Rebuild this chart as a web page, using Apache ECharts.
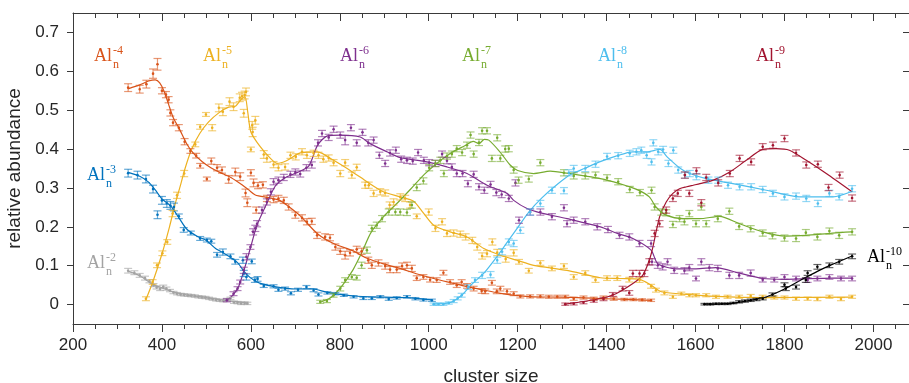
<!DOCTYPE html>
<html><head><meta charset="utf-8">
<script src="https://cdn.jsdelivr.net/npm/echarts@6/dist/echarts.min.js"></script>
<style>html,body{margin:0;padding:0;background:#fff}#c{width:909px;height:383px}</style>
</head><body><div id="c"></div>
<script>
// ---- tick labels ----
const xTicks = [200,400,600,800,1000,1200,1400,1600,1800,2000];
const xMinorTicks = [250,300,350,450,500,550,650,700,750,850,900,950,1050,1100,1150,1250,1300,1350,1450,1500,1550,1650,1700,1750,1850,1900,1950,2050];
const yTicks = [0,0.1,0.2,0.3,0.4,0.5,0.6,0.7];

// ---- data: [cluster size, abundance, error] ----
const al2 = [[324,0.087,.006],[338,0.082,.005],[350,0.075,.005],[362,0.068,.005],[372,0.060,.004],[381,0.050,.004],[388,0.044,.004],[396,0.040,.004],[403,0.046,.004],[410,0.041,.004],[418,0.036,.003],[426,0.031,.003],[434,0.028,.003],[442,0.026,.003],[450,0.025,.003],[458,0.024,.003],[466,0.023,.003],[474,0.022,.003],[482,0.020,.003],[490,0.019,.003],[498,0.018,.003],[506,0.016,.003],[514,0.014,.003],[522,0.012,.003],[530,0.011,.003],[538,0.010,.003],[546,0.013,.003],[554,0.016,.003],[562,0.006,.003],[570,0.005,.003],[578,0.003,.003],[586,0.004,.003],[592,0.003,.003]];
const al2Fit = [[324,.086],[350,.074],[380,.052],[400,.043],[430,.031],[460,.024],[500,.018],[540,.011],[570,.007],[592,.004]];

const al3 = [[324,.338,.01],[345,.333,.01],[364,.323,.01],[380,.297,.01],[390,.231,.01],[400,.268,.01],[411,.260,.01],[419,.255,.01],[427,.251,.01],[438,.227,.006],[449,.192,.006],[465,.184,.005],[486,.170,.005],[501,.166,.005],[511,.163,.005],[524,.128,.006],[537,.135,.008],[554,.124,.006],[565,.110,.006],[582,.114,.008],[584,.080,.008],[590,.071,.008],[602,.111,.006],[609,.063,.006],[615,.066,.006],[629,.048,.004],[651,.047,.004],[662,.038,.004],[677,.041,.004],[690,.029,.004],[706,.038,.004],[725,.045,.004],[741,.037,.004],[752,.026,.004],[772,.030,.003],[790,.028,.003],[809,.024,.003],[831,.020,.003],[853,.016,.003],[872,.016,.003],[891,.020,.003],[910,.014,.003],[928,.017,.003],[951,.020,.003],[970,.015,.003],[988,.012,.003],[1007,.011,.003]];
const al3Fit = [[324,.340],[350,.330],[370,.315],[385,.295],[400,.272],[420,.253],[440,.220],[455,.195],[480,.175],[500,.165],[520,.145],[545,.128],[570,.108],[585,.085],[600,.068],[620,.055],[650,.047],[700,.040],[740,.040],[770,.032],[830,.022],[900,.019],[950,.018],[1007,.012]];

const al4 = [[324,.558,.01],[350,.554,.01],[365,.567,.01],[380,.594,.012],[390,.618,.015],[400,.550,.008],[409,.540,.008],[415,.527,.008],[419,.493,.008],[425,.468,.008],[438,.455,.008],[451,.419,.008],[464,.395,.006],[477,.383,.006],[486,.357,.006],[501,.323,.005],[511,.369,.008],[524,.352,.008],[535,.346,.008],[550,.322,.01],[565,.341,.01],[576,.329,.01],[588,.287,.01],[592,.262,.01],[600,.339,.008],[606,.313,.01],[612,.243,.008],[616,.306,.008],[627,.308,.008],[636,.273,.008],[651,.270,.008],[662,.273,.008],[674,.268,.008],[685,.251,.008],[700,.230,.008],[715,.223,.008],[726,.213,.008],[737,.214,.008],[749,.178,.008],[767,.174,.008],[778,.172,.008],[790,.148,.008],[801,.137,.008],[812,.127,.01],[823,.133,.008],[838,.142,.008],[849,.137,.008],[864,.114,.008],[872,.101,.008],[887,.107,.008],[902,.099,.008],[913,.090,.008],[928,.090,.008],[940,.099,.008],[951,.101,.008],[962,.093,.008],[973,.068,.006],[988,.071,.006],[1003,.064,.006],[1018,.063,.006],[1033,.082,.006],[1048,.058,.006],[1063,.050,.006],[1074,.058,.006],[1086,.048,.006],[1101,.041,.006],[1119,.035,.006],[1127,.034,.006],[1142,.056,.006],[1153,.034,.006],[1161,.041,.006],[1176,.034,.006],[1191,.028,.005],[1206,.021,.004],[1228,.021,.004],[1251,.021,.004],[1270,.020,.004],[1289,.020,.004],[1307,.020,.004],[1326,.015,.004],[1348,.018,.004],[1371,.015,.004],[1393,.018,.004],[1416,.015,.004],[1440,.013,.003],[1460,.013,.003],[1480,.012,.003],[1500,.011,.003]];
const al4Fit = [[324,.555],[350,.565],[370,.575],[385,.578],[395,.570],[405,.548],[415,.515],[425,.482],[440,.450],[455,.415],[470,.390],[490,.368],[510,.352],[530,.340],[550,.330],[575,.312],[595,.295],[610,.282],[640,.275],[665,.268],[685,.252],[711,.228],[749,.183],[786,.157],[830,.138],[861,.119],[900,.104],[936,.093],[970,.080],[1011,.067],[1050,.056],[1086,.046],[1120,.038],[1161,.029],[1200,.023],[1236,.020],[1300,.019],[1400,.015],[1500,.011]];

const al5 = [[364,.015,.005],[379,.058,.006],[389,.101,.006],[401,.132,.006],[412,.161,.006],[424,.234,.008],[434,.281,.008],[450,.337,.008],[475,.412,.006],[486,.457,.006],[499,.489,.005],[513,.455,.008],[528,.506,.01],[537,.496,.01],[552,.522,.01],[561,.509,.01],[575,.532,.01],[580,.536,.01],[584,.492,.01],[586,.539,.01],[589,.547,.01],[600,.399,.006],[603,.461,.01],[604,.444,.012],[610,.474,.01],[629,.386,.01],[636,.376,.01],[651,.360,.008],[662,.352,.008],[677,.354,.008],[689,.384,.008],[701,.380,.008],[715,.393,.008],[726,.384,.008],[741,.389,.008],[752,.384,.008],[763,.374,.008],[775,.377,.008],[786,.365,.008],[801,.337,.008],[812,.365,.008],[827,.333,.008],[838,.353,.008],[857,.307,.008],[865,.307,.008],[876,.286,.008],[891,.290,.008],[902,.287,.008],[912,.256,.008],[921,.264,.008],[936,.277,.008],[947,.273,.008],[958,.256,.008],[973,.227,.006],[1000,.238,.008],[1015,.196,.008],[1030,.213,.008],[1041,.183,.008],[1056,.184,.008],[1071,.181,.008],[1083,.174,.008],[1098,.165,.008],[1109,.148,.008],[1120,.125,.008],[1131,.131,.008],[1143,.161,.008],[1154,.134,.008],[1173,.117,.008],[1191,.133,.008],[1203,.110,.006],[1225,.087,.006],[1251,.107,.006],[1277,.093,.006],[1304,.099,.006],[1326,.071,.006],[1352,.081,.006],[1375,.063,.006],[1401,.068,.006],[1424,.068,.006],[1451,.064,.006],[1474,.063,.006],[1500,.047,.005],[1511,.037,.005],[1530,.030,.005],[1549,.020,.004],[1568,.028,.004],[1586,.024,.004],[1601,.024,.004],[1624,.024,.004],[1646,.020,.004],[1672,.020,.004],[1698,.020,.004],[1724,.022,.004],[1751,.020,.004],[1777,.018,.004],[1800,.018,.004],[1826,.015,.004],[1852,.015,.004],[1874,.014,.004],[1901,.020,.004],[1927,.014,.004],[1952,.020,.004]];
const al5Fit = [[364,.013],[380,.060],[400,.130],[417,.200],[430,.260],[440,.300],[452,.350],[467,.400],[485,.440],[505,.470],[530,.495],[550,.508],[565,.510],[580,.530],[587,.534],[593,.495],[600,.444],[621,.406],[644,.376],[659,.363],[680,.370],[711,.390],[750,.393],[786,.371],[830,.340],[861,.316],[898,.290],[936,.277],[966,.266],[985,.240],[1011,.204],[1048,.187],[1086,.174],[1124,.144],[1161,.127],[1198,.114],[1236,.101],[1311,.088],[1386,.069],[1431,.067],[1474,.065],[1500,.050],[1523,.033],[1572,.027],[1646,.021],[1759,.018],[1952,.019]];

const al6 = [[546,.011,.004],[561,.028,.005],[570,.041,.005],[576,.058,.005],[584,.088,.008],[590,.123,.008],[599,.148,.006],[605,.187,.008],[610,.196,.008],[614,.208,.008],[625,.243,.008],[636,.264,.008],[645,.290,.008],[651,.316,.008],[662,.320,.008],[674,.327,.008],[689,.335,.008],[700,.341,.008],[711,.336,.008],[725,.352,.008],[737,.359,.008],[751,.416,.008],[760,.440,.008],[775,.430,.008],[786,.451,.008],[801,.436,.008],[812,.423,.012],[825,.455,.008],[838,.416,.008],[851,.443,.008],[864,.416,.008],[876,.423,.008],[889,.384,.008],[902,.363,.008],[913,.390,.008],[926,.397,.008],[938,.374,.008],[951,.371,.008],[964,.369,.008],[976,.391,.008],[989,.371,.008],[1001,.365,.008],[1015,.363,.008],[1030,.387,.008],[1041,.370,.008],[1052,.354,.008],[1063,.337,.008],[1076,.337,.008],[1088,.311,.008],[1101,.335,.008],[1113,.303,.008],[1125,.294,.008],[1139,.309,.008],[1152,.288,.008],[1164,.283,.008],[1180,.273,.008],[1195,.313,.008],[1203,.217,.008],[1228,.238,.008],[1251,.238,.008],[1277,.226,.008],[1304,.249,.008],[1311,.208,.008],[1326,.217,.008],[1352,.213,.008],[1379,.200,.008],[1403,.193,.008],[1429,.178,.008],[1451,.174,.008],[1474,.157,.008],[1500,.157,.008],[1502,.110,.008],[1515,.101,.008],[1526,.097,.008],[1537,.110,.008],[1552,.088,.008],[1575,.087,.008],[1586,.095,.008],[1601,.067,.006],[1613,.110,.008],[1631,.095,.008],[1650,.093,.008],[1676,.075,.008],[1698,.075,.008],[1724,.081,.008],[1751,.064,.006],[1777,.064,.006],[1800,.071,.006],[1826,.067,.006],[1852,.063,.006],[1874,.067,.006],[1901,.071,.006],[1927,.067,.006],[1952,.067,.006]];
const al6Fit = [[546,.010],[560,.025],[572,.045],[585,.090],[600,.150],[614,.205],[635,.258],[655,.305],[680,.328],[705,.340],[730,.356],[750,.410],[772,.434],[801,.436],[846,.431],[868,.414],[906,.393],[936,.378],[996,.367],[1041,.354],[1086,.337],[1131,.307],[1176,.286],[1191,.268],[1221,.247],[1251,.236],[1311,.221],[1386,.200],[1424,.183],[1459,.170],[1500,.140],[1515,.105],[1557,.092],[1601,.092],[1646,.095],[1698,.081],[1751,.067],[1803,.065],[1908,.068],[1952,.068]];

const al7 = [[756,.007,.004],[771,.009,.004],[786,.024,.005],[801,.041,.006],[812,.063,.006],[827,.071,.006],[838,.069,.006],[849,.101,.008],[861,.140,.008],[872,.196,.008],[883,.204,.008],[895,.221,.008],[910,.238,.008],[925,.238,.008],[936,.238,.008],[951,.237,.008],[962,.256,.008],[973,.301,.008],[988,.318,.008],[1001,.352,.008],[1015,.363,.008],[1026,.371,.008],[1034,.337,.008],[1041,.382,.008],[1052,.387,.008],[1063,.401,.008],[1075,.391,.008],[1086,.410,.008],[1094,.436,.008],[1101,.387,.008],[1113,.417,.008],[1120,.447,.008],[1131,.447,.008],[1142,.376,.008],[1154,.429,.008],[1161,.376,.008],[1172,.400,.008],[1180,.401,.008],[1191,.346,.008],[1202,.320,.008],[1225,.323,.008],[1251,.365,.008],[1304,.339,.008],[1326,.331,.008],[1352,.331,.008],[1375,.333,.008],[1401,.326,.008],[1426,.316,.008],[1452,.296,.008],[1475,.288,.008],[1501,.294,.008],[1508,.251,.008],[1523,.238,.008],[1534,.236,.008],[1549,.206,.008],[1564,.221,.008],[1575,.213,.008],[1586,.234,.008],[1601,.208,.008],[1613,.251,.008],[1624,.208,.008],[1650,.221,.008],[1676,.240,.008],[1698,.201,.008],[1724,.195,.008],[1751,.184,.008],[1773,.177,.008],[1800,.171,.008],[1826,.170,.008],[1848,.185,.008],[1874,.174,.008],[1901,.189,.008],[1923,.178,.008],[1952,.187,.008]];
const al7Fit = [[756,.006],[780,.018],[805,.048],[830,.090],[850,.135],[870,.185],[900,.228],[930,.262],[960,.298],[990,.335],[1020,.365],[1050,.390],[1080,.408],[1100,.420],[1113,.414],[1125,.425],[1135,.423],[1160,.393],[1183,.359],[1200,.345],[1236,.337],[1273,.343],[1310,.338],[1386,.324],[1429,.311],[1470,.295],[1496,.277],[1511,.251],[1534,.230],[1572,.221],[1609,.221],[1654,.227],[1699,.208],[1751,.187],[1803,.176],[1848,.178],[1908,.184],[1952,.187]];

const al8 = [[1011,.001,.003],[1022,.001,.003],[1033,.001,.003],[1045,.004,.003],[1056,.009,.004],[1065,.016,.004],[1074,.024,.005],[1089,.045,.006],[1104,.063,.006],[1120,.075,.008],[1139,.077,.008],[1154,.114,.008],[1165,.136,.008],[1180,.161,.008],[1191,.157,.008],[1206,.191,.008],[1228,.238,.008],[1251,.260,.008],[1277,.294,.008],[1304,.293,.008],[1315,.339,.008],[1326,.350,.008],[1352,.350,.008],[1375,.361,.008],[1401,.381,.008],[1426,.383,.008],[1452,.389,.008],[1467,.393,.008],[1478,.397,.008],[1490,.384,.008],[1501,.367,.008],[1505,.416,.008],[1516,.393,.008],[1527,.399,.008],[1539,.363,.008],[1550,.397,.008],[1561,.346,.008],[1576,.333,.008],[1587,.337,.008],[1602,.329,.008],[1629,.320,.008],[1651,.320,.008],[1673,.307,.008],[1699,.303,.008],[1725,.303,.008],[1751,.296,.008],[1774,.286,.008],[1800,.277,.008],[1826,.279,.008],[1849,.273,.008],[1875,.260,.008],[1901,.286,.008],[1923,.277,.008],[1952,.298,.008]];
const al8Fit = [[1011,.001],[1050,.006],[1075,.025],[1095,.050],[1125,.082],[1150,.118],[1175,.158],[1200,.198],[1225,.238],[1255,.275],[1290,.310],[1320,.335],[1350,.350],[1384,.367],[1421,.382],[1459,.393],[1490,.393],[1520,.399],[1536,.380],[1566,.350],[1587,.337],[1624,.324],[1684,.311],[1759,.294],[1834,.277],[1909,.277],[1954,.292]];

const al9 = [[1307,.001,.003],[1326,.002,.003],[1348,.005,.003],[1371,.009,.003],[1393,.014,.004],[1414,.026,.005],[1436,.041,.006],[1451,.030,.006],[1459,.080,.008],[1474,.080,.008],[1485,.080,.008],[1496,.110,.008],[1508,.183,.008],[1519,.208,.008],[1534,.243,.008],[1549,.273,.008],[1560,.286,.008],[1576,.333,.008],[1586,.286,.008],[1602,.344,.008],[1613,.262,.008],[1624,.327,.008],[1651,.313,.008],[1677,.337,.008],[1699,.376,.008],[1725,.367,.008],[1751,.406,.008],[1774,.410,.008],[1800,.427,.008],[1826,.390,.008],[1849,.359,.008],[1875,.361,.008],[1899,.301,.008],[1924,.333,.008],[1952,.274,.008]];
const al9Fit = [[1307,.001],[1384,.015],[1421,.028],[1459,.054],[1481,.075],[1496,.114],[1504,.148],[1519,.225],[1534,.264],[1549,.286],[1564,.298],[1580,.303],[1595,.307],[1610,.311],[1640,.320],[1677,.341],[1714,.371],[1751,.399],[1781,.401],[1811,.397],[1849,.371],[1894,.337],[1952,.290]];

const al10 = [[1620,.001,.002],[1633,.001,.002],[1646,.002,.002],[1659,.002,.002],[1672,.002,.002],[1685,.004,.002],[1698,.007,.003],[1711,.009,.003],[1724,.011,.003],[1737,.013,.003],[1751,.015,.003],[1773,.026,.004],[1800,.051,.005],[1803,.041,.005],[1826,.045,.005],[1848,.063,.006],[1852,.081,.006],[1874,.097,.006],[1901,.101,.006],[1923,.110,.006],[1952,.124,.006]];
const al10Fit = [[1620,.001],[1680,.003],[1720,.010],[1760,.020],[1800,.040],[1840,.065],[1875,.086],[1905,.102],[1952,.125]];

const groups = [
  {pts: al2,  fit: al2Fit,  color: '#a3a3a3', sup: '-2',  lx: 87,  ly: 263},
  {pts: al3,  fit: al3Fit,  color: '#0072BD', sup: '-3',  lx: 87,  ly: 175},
  {pts: al4,  fit: al4Fit,  color: '#D95319', sup: '-4',  lx: 94,  ly: 56},
  {pts: al5,  fit: al5Fit,  color: '#EDB120', sup: '-5',  lx: 203, ly: 56},
  {pts: al6,  fit: al6Fit,  color: '#7E2F8E', sup: '-6',  lx: 340, ly: 56},
  {pts: al7,  fit: al7Fit,  color: '#77AC30', sup: '-7',  lx: 462, ly: 56},
  {pts: al8,  fit: al8Fit,  color: '#4DBEEE', sup: '-8',  lx: 598, ly: 56},
  {pts: al9,  fit: al9Fit,  color: '#A2142F', sup: '-9',  lx: 756, ly: 56},
  {pts: al10, fit: al10Fit, color: '#000000', sup: '-10', lx: 867, ly: 257}
];

const axisColor = '#3a3a3a';
const textColor = '#262626';
const sansFont = '"Liberation Sans", Arial, sans-serif';
const serifFont = '"Liberation Serif", "Times New Roman", serif';

function errRender(color) {
  return function (params, api) {
    const x = api.value(0), y = api.value(1), e = api.value(2);
    const p = api.coord([x, y]);
    const t = api.coord([x, y + e]);
    const b = api.coord([x, y - e]);
    const w = 4;
    const st = {stroke: color, lineWidth: 1.2, opacity: 0.6};
    return {type: 'group', children: [
      {type: 'line', shape: {x1: p[0], y1: t[1], x2: p[0], y2: b[1]}, style: st},
      {type: 'line', shape: {x1: p[0] - w, y1: t[1], x2: p[0] + w, y2: t[1]}, style: st},
      {type: 'line', shape: {x1: p[0] - w, y1: b[1], x2: p[0] + w, y2: b[1]}, style: st},
      {type: 'circle', shape: {cx: p[0], cy: p[1], r: 1.3}, style: {fill: color}}
    ]};
  };
}

const series = [];
groups.forEach(g => {
  series.push({type: 'line', data: g.fit, smooth: 0.25, showSymbol: false, symbol: 'none',
    lineStyle: {color: g.color, width: 1.2}, itemStyle: {color: g.color}, z: 2, silent: true});
  series.push({type: 'custom', data: g.pts, renderItem: errRender(g.color), z: 3, silent: true, clip: true,
    encode: {x: 0, y: 1}});
});

const graphic = [];
groups.forEach(g => {
  graphic.push({type: 'text', x: g.lx, y: g.ly, silent: true,
    style: {text: 'Al', font: '18px ' + serifFont, fill: g.color, verticalAlign: 'middle', align: 'left'}});
  graphic.push({type: 'text', x: g.lx + 19, y: g.ly - 5, silent: true,
    style: {text: g.sup, font: '12px ' + serifFont, fill: g.color, verticalAlign: 'middle', align: 'left'}});
  graphic.push({type: 'text', x: g.lx + 19, y: g.ly + 9, silent: true,
    style: {text: 'n', font: '12px ' + serifFont, fill: g.color, verticalAlign: 'middle', align: 'left'}});
});

const lineStyle = {color: axisColor, width: 1};
const baseX = {type: 'value', min: 200, max: 2080, splitLine: {show: false}, gridIndex: 0};

const option = {
  animation: false,
  backgroundColor: '#ffffff',
  grid: {left: 73, right: 0, top: 13, bottom: 59, containLabel: false, outerBoundsMode: 'none'},
  xAxis: [
    Object.assign({}, baseX, {position: 'bottom',
      axisLine: {show: true, onZero: false, lineStyle},
      axisTick: {show: true, customValues: xTicks, length: 8, lineStyle},
      axisLabel: {customValues: xTicks, fontSize: 17, color: textColor, margin: 13, fontFamily: sansFont,
        formatter: v => String(Math.round(v))},
      name: 'cluster size', nameLocation: 'middle', nameGap: 43,
      nameTextStyle: {fontSize: 19, color: textColor, fontFamily: sansFont}}),
    Object.assign({}, baseX, {position: 'bottom',
      axisLine: {show: false, onZero: false},
      axisTick: {show: true, customValues: xMinorTicks, length: 5, lineStyle},
      axisLabel: {show: false}}),
    Object.assign({}, baseX, {position: 'top',
      axisLine: {show: true, onZero: false, lineStyle},
      axisTick: {show: true, inside: true, customValues: xTicks, length: 8, lineStyle},
      axisLabel: {show: false}}),
    Object.assign({}, baseX, {position: 'top',
      axisLine: {show: false, onZero: false},
      axisTick: {show: true, inside: true, customValues: xMinorTicks, length: 5, lineStyle},
      axisLabel: {show: false}})
  ],
  yAxis: [
    {type: 'value', position: 'left', min: -0.05, max: 0.75, splitLine: {show: false},
      axisLine: {show: true, onZero: false, lineStyle},
      axisTick: {show: true, customValues: yTicks, length: 6, lineStyle},
      axisLabel: {customValues: yTicks, fontSize: 17, color: textColor, margin: 14, fontFamily: sansFont,
        formatter: v => (Math.abs(v) < 1e-9 ? '0' : v.toFixed(1))},
      name: 'relative abundance', nameLocation: 'middle', nameGap: 42, nameRotate: 90,
      nameTextStyle: {fontSize: 19, color: textColor, fontFamily: sansFont}},
    {type: 'value', position: 'right', min: -0.05, max: 0.75, splitLine: {show: false},
      axisLine: {show: true, onZero: false, lineStyle},
      axisTick: {show: true, inside: true, customValues: yTicks, length: 6, lineStyle},
      axisLabel: {show: false}}
  ],
  series: series,
  graphic: graphic
};

const chart = echarts.init(document.getElementById('c'), null, {renderer: 'canvas'});
chart.setOption(option);
</script>
</body></html>
